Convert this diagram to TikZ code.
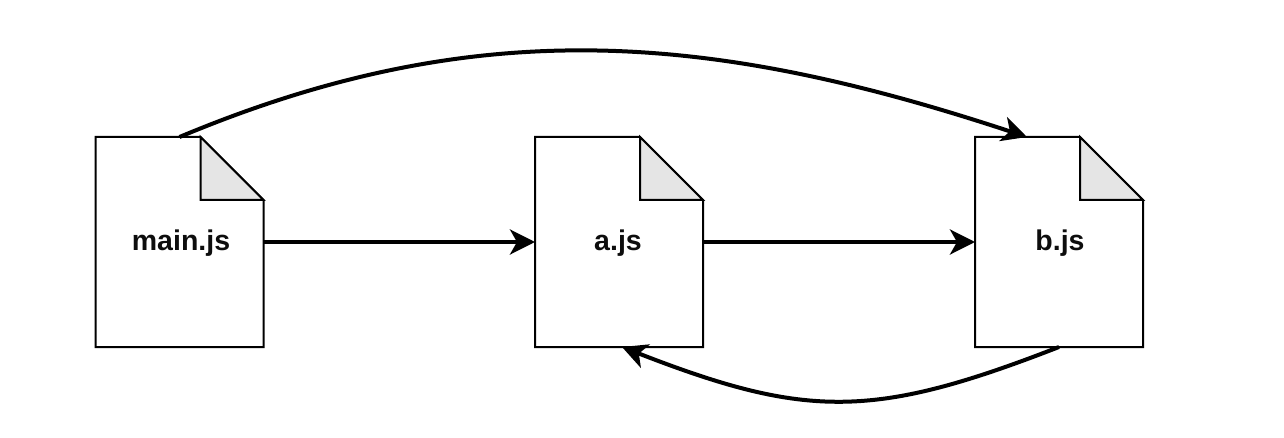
\documentclass[tikz,border=0pt]{standalone}
\usepackage{fontspec}
\setmainfont{Liberation Sans}
\usetikzlibrary{arrows.meta,calc}
\tikzset{
  docbox/.style={minimum width=168pt,minimum height=210pt,inner sep=0pt,outer sep=0pt,
    font=\fontsize{28.5}{30}\selectfont\bfseries,text=black!95},
  docline/.style={draw=black,line width=2pt,line join=miter},
  foldfill/.style={docline,fill=black!10},
  flow/.style={draw=black,line width=4pt,-{Stealth[length=25pt,width=25pt,inset=7pt]}},
}
\newcommand{\docshape}[1]{%
  \draw[docline] ($(#1.north west)$) -- ($(#1.north east)+(-63pt,0)$) -- ($(#1.north east)+(0,-63pt)$)
    -- (#1.south east) -- (#1.south west) -- cycle;
  \draw[foldfill] ($(#1.north east)+(-63pt,0)$) -- ($(#1.north east)+(0,-63pt)$)
    -- ($(#1.north east)+(-63pt,-63pt)$) -- cycle;
}
\begin{document}
\begin{tikzpicture}[x=1pt,y=-1pt]
\useasboundingbox (0,0) rectangle (1284,438);
\node[docbox] (main) at (179.5,242) {\phantom{main.js}};
\node[docbox] (a) at (619,242) {\phantom{a.js}};
\node[docbox] (b) at (1059,242) {\phantom{b.js}};
\docshape{main}
\docshape{a}
\docshape{b}
\node[docbox,draw=none] (mainlabel) at (181,243) {main.js};
\node[docbox,draw=none] (alabel) at (618,243) {a.js};
\node[docbox,draw=none] (blabel) at (1060,243) {b.js};
\coordinate (topin) at ($(b.north)+(-32pt,0)$);
\coordinate (botin) at ($(a.south)+(3pt,0)$);
\draw[flow] (main.east) -- (a.west);
\draw[flow] (a.east) -- (b.west);
\draw[flow] (main.north) .. controls (478,12) and (712,33) .. (topin);
\draw[flow] (b.south) .. controls (874,419) and (807,419) .. (botin);
\end{tikzpicture}
\end{document}
